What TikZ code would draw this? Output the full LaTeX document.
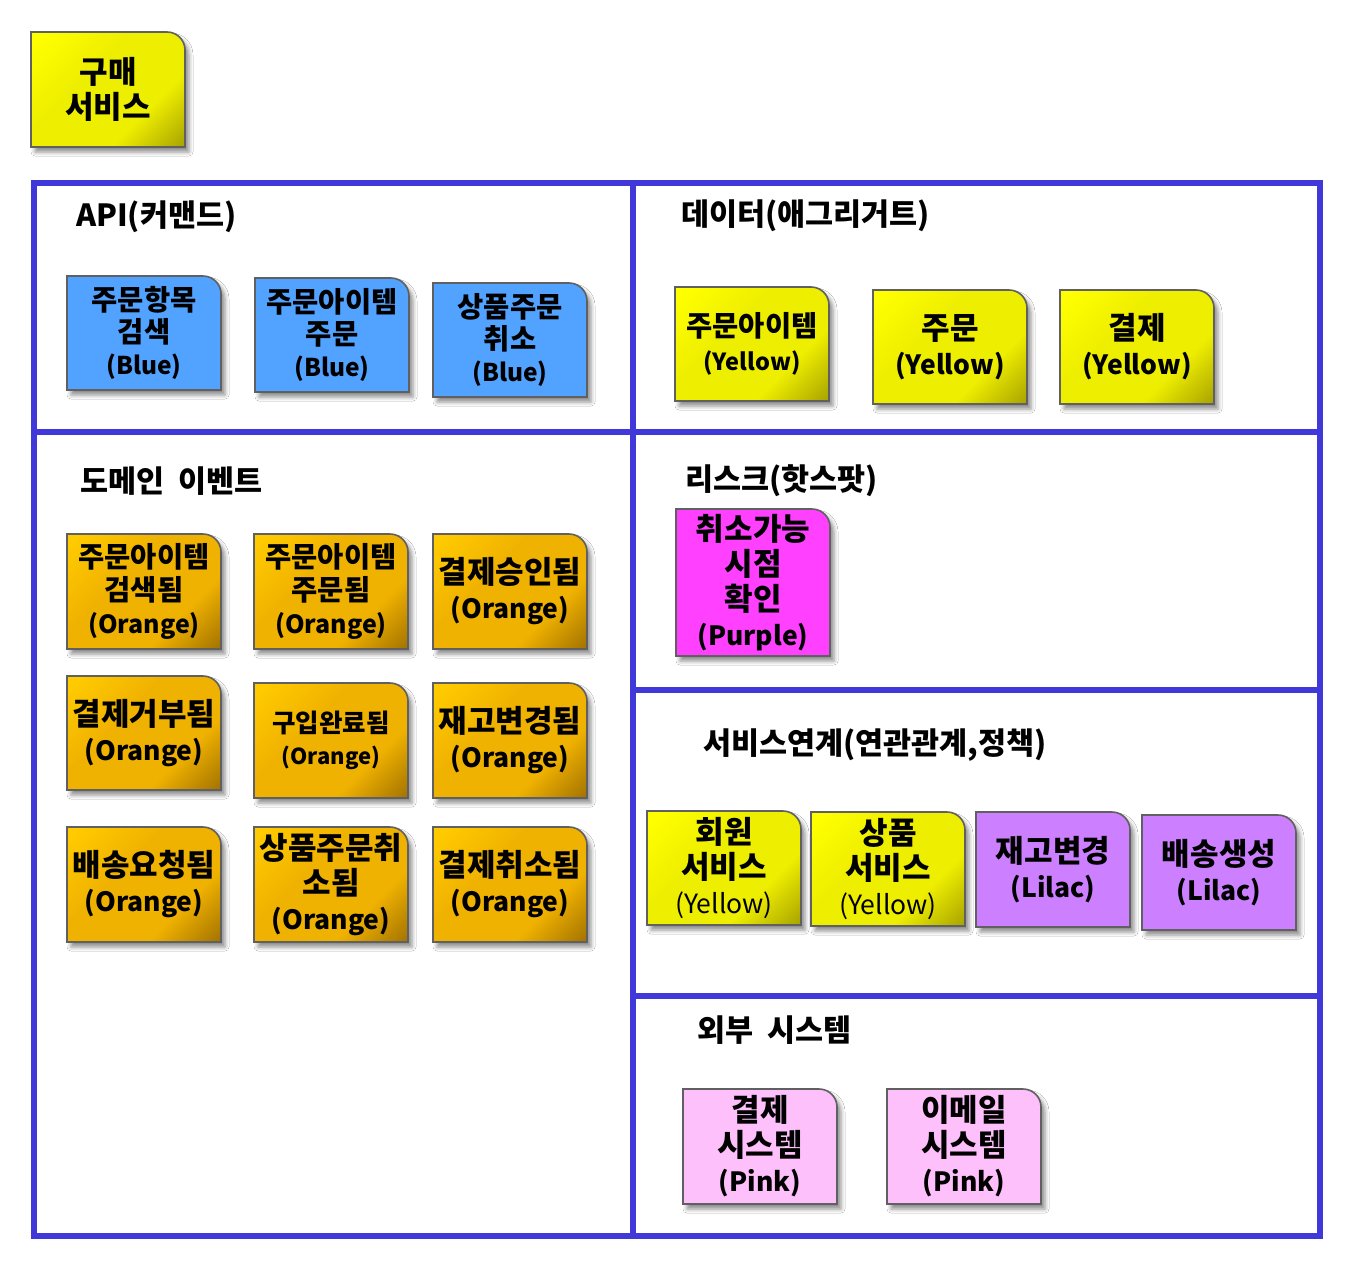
\documentclass[tikz,border=0pt]{standalone}
\usepackage{fontspec}
\setmainfont{Noto Sans CJK KR}
\usetikzlibrary{shadows.blur}
\definecolor{frameblue}{RGB}{64,56,216}
\definecolor{noteline}{RGB}{96,96,96}
\definecolor{bluefill}{RGB}{82,162,255}
\definecolor{purplefill}{RGB}{255,64,255}
\definecolor{lilacfill}{RGB}{204,128,255}
\definecolor{pinkfill}{RGB}{253,192,250}
\colorlet{nlight}{white}\colorlet{nmid}{white}\colorlet{ndark}{white}
\pgfdeclarehorizontalshading[nlight,nmid,ndark]{notesh}{100bp}{color(0bp)=(nlight); color(18bp)=(nlight); color(40bp)=(nmid); color(66bp)=(nmid); color(86bp)=(ndark); color(100bp)=(ndark)}
\def\latsz{26}
\newcommand\lat[1]{{\fontsize{\latsz}{\latsz}\selectfont #1}}
\newcommand\titlefont{\fontsize{30.5}{34}\selectfont\bfseries\spaceskip 0.45em\relax}
\tikzset{
  frame/.style={draw=frameblue, line width=6pt},
  notebox/.style={draw=noteline, line width=1.6pt,
    blur shadow={shadow xshift=4pt, shadow yshift=-5pt, shadow blur radius=4pt, shadow opacity=45}},
  yellownote/.style={/utils/exec={\definecolor{nlight}{RGB}{255,255,0}\definecolor{nmid}{RGB}{238,238,0}\definecolor{ndark}{RGB}{165,160,0}},
    shade, shading=notesh, shading angle=-45},
  orangenote/.style={/utils/exec={\definecolor{nlight}{RGB}{255,202,0}\definecolor{nmid}{RGB}{240,178,0}\definecolor{ndark}{RGB}{160,112,0}},
    shade, shading=notesh, shading angle=-45},
  bluenote/.style={fill=bluefill},
  purplenote/.style={fill=purplefill},
  lilacnote/.style={fill=lilacfill},
  pinknote/.style={fill=pinkfill},
  notetext/.style={inner sep=0pt, align=center, text=black},
  fA/.style={font=\fontsize{31}{35}\selectfont\bfseries\def\latsz{26.5}},
  fB/.style={font=\fontsize{28.5}{32}\selectfont\bfseries\def\latsz{24.5}},
  fC/.style={font=\fontsize{28.5}{33}\selectfont\bfseries\def\latsz{25}},
  fD/.style={font=\fontsize{25.5}{32}\selectfont\bfseries\def\latsz{22}},
  fE/.style={font=\fontsize{28.5}{34}\selectfont\bfseries\def\latsz{23.5}},
  title/.style={anchor=west, inner sep=0pt, font=\titlefont},
}
\newcommand\snote[8]{%
  \path[notebox,#6] (#2,#5) -- (#2,#3) -- ({#4-18},#3) arc[start angle=270,end angle=360,radius=18] -- (#4,#5) -- cycle;
  \node[notetext,#7] (#1) at ({(#2+#4)/2},{(#3+#5)/2}) {#8};
}
\begin{document}
\begin{tikzpicture}[x=1pt,y=-1pt]
\useasboundingbox (0,0) rectangle (1348,1266);
\fill[white] (0,0) rectangle (1348,1266);

% frame
\draw[frame] (34,183) rectangle (1320,1236);
\draw[frame] (633,183) -- (633,1236);
\draw[frame] (34,432) -- (1320,432);
\draw[frame] (633,690) -- (1320,690);
\draw[frame] (633,996) -- (1320,996);

% top sticky
\snote{svc}{31}{32}{185}{147}{yellownote}{fA}{구매\\서비스}

% titles
\node[title] (tapi) at (76,217) {API(커맨드)};
\node[title] (tdata) at (681,216) {데이터(애그리거트)};
\node[title] (tevt) at (80,481) {도메인 이벤트};
\node[title] (trisk) at (685,481) {리스크(핫스팟)};
\node[title] (tlink) at (703,745) {서비스연계(연관관계,정책)};
\node[title] (text) at (697,1030) {외부 시스템};

% API
\snote{b1}{67}{276}{221}{390}{bluenote}{fB}{주문항목\\검색\\\lat{(Blue)}}
\snote{b2}{255}{278}{409}{392}{bluenote}{fB}{주문아이템\\주문\\\lat{(Blue)}}
\snote{b3}{433}{283}{587}{397}{bluenote}{fB}{상품주문\\취소\\\lat{(Blue)}}

% data
\snote{y1}{675}{287}{829}{401}{yellownote}{fE}{주문아이템\\\lat{(Yellow)}}
\snote{y2}{873}{290}{1027}{404}{yellownote}{fA}{주문\\\lat{(Yellow)}}
\snote{y3}{1060}{290}{1214}{404}{yellownote}{fA}{결제\\\lat{(Yellow)}}

% events
\snote{o1}{67}{534}{221}{649}{orangenote}{fC}{주문아이템\\검색됨\\\lat{(Orange)}}
\snote{o2}{254}{534}{408}{649}{orangenote}{fC}{주문아이템\\주문됨\\\lat{(Orange)}}
\snote{o3}{433}{534}{587}{649}{orangenote}{fA}{결제승인됨\\\lat{(Orange)}}
\snote{o4}{67}{676}{221}{790}{orangenote}{fA}{결제거부됨\\\lat{(Orange)}}
\snote{o5}{254}{683}{408}{798}{orangenote}{fD}{구입완료됨\\\lat{(Orange)}}
\snote{o6}{433}{683}{587}{798}{orangenote}{fA}{재고변경됨\\\lat{(Orange)}}
\snote{o7}{67}{827}{221}{942}{orangenote}{fA}{배송요청됨\\\lat{(Orange)}}
\snote{o8}{254}{827}{408}{942}{orangenote}{fA}{상품주문취\\소됨\\\lat{(Orange)}}
\snote{o9}{433}{827}{587}{942}{orangenote}{fA}{결제취소됨\\\lat{(Orange)}}

% risk
\snote{p1}{676}{509}{830}{656}{purplenote}{fA}{취소가능\\시점\\확인\\\lat{(Purple)}}

% service links
\snote{s1}{647}{811}{801}{925}{yellownote}{fA}{회원\\서비스\\\lat{\mdseries (Yellow)}}
\snote{s2}{811}{812}{965}{926}{yellownote}{fA}{상품\\서비스\\\lat{\mdseries (Yellow)}}
\snote{s3}{976}{812}{1130}{927}{lilacnote}{fA}{재고변경\\\lat{(Lilac)}}
\snote{s4}{1142}{815}{1296}{930}{lilacnote}{fA}{배송생성\\\lat{(Lilac)}}

% external
\snote{e1}{683}{1089}{837}{1204}{pinknote}{fA}{결제\\시스템\\\lat{(Pink)}}
\snote{e2}{887}{1089}{1041}{1204}{pinknote}{fA}{이메일\\시스템\\\lat{(Pink)}}
\end{tikzpicture}
\end{document}
